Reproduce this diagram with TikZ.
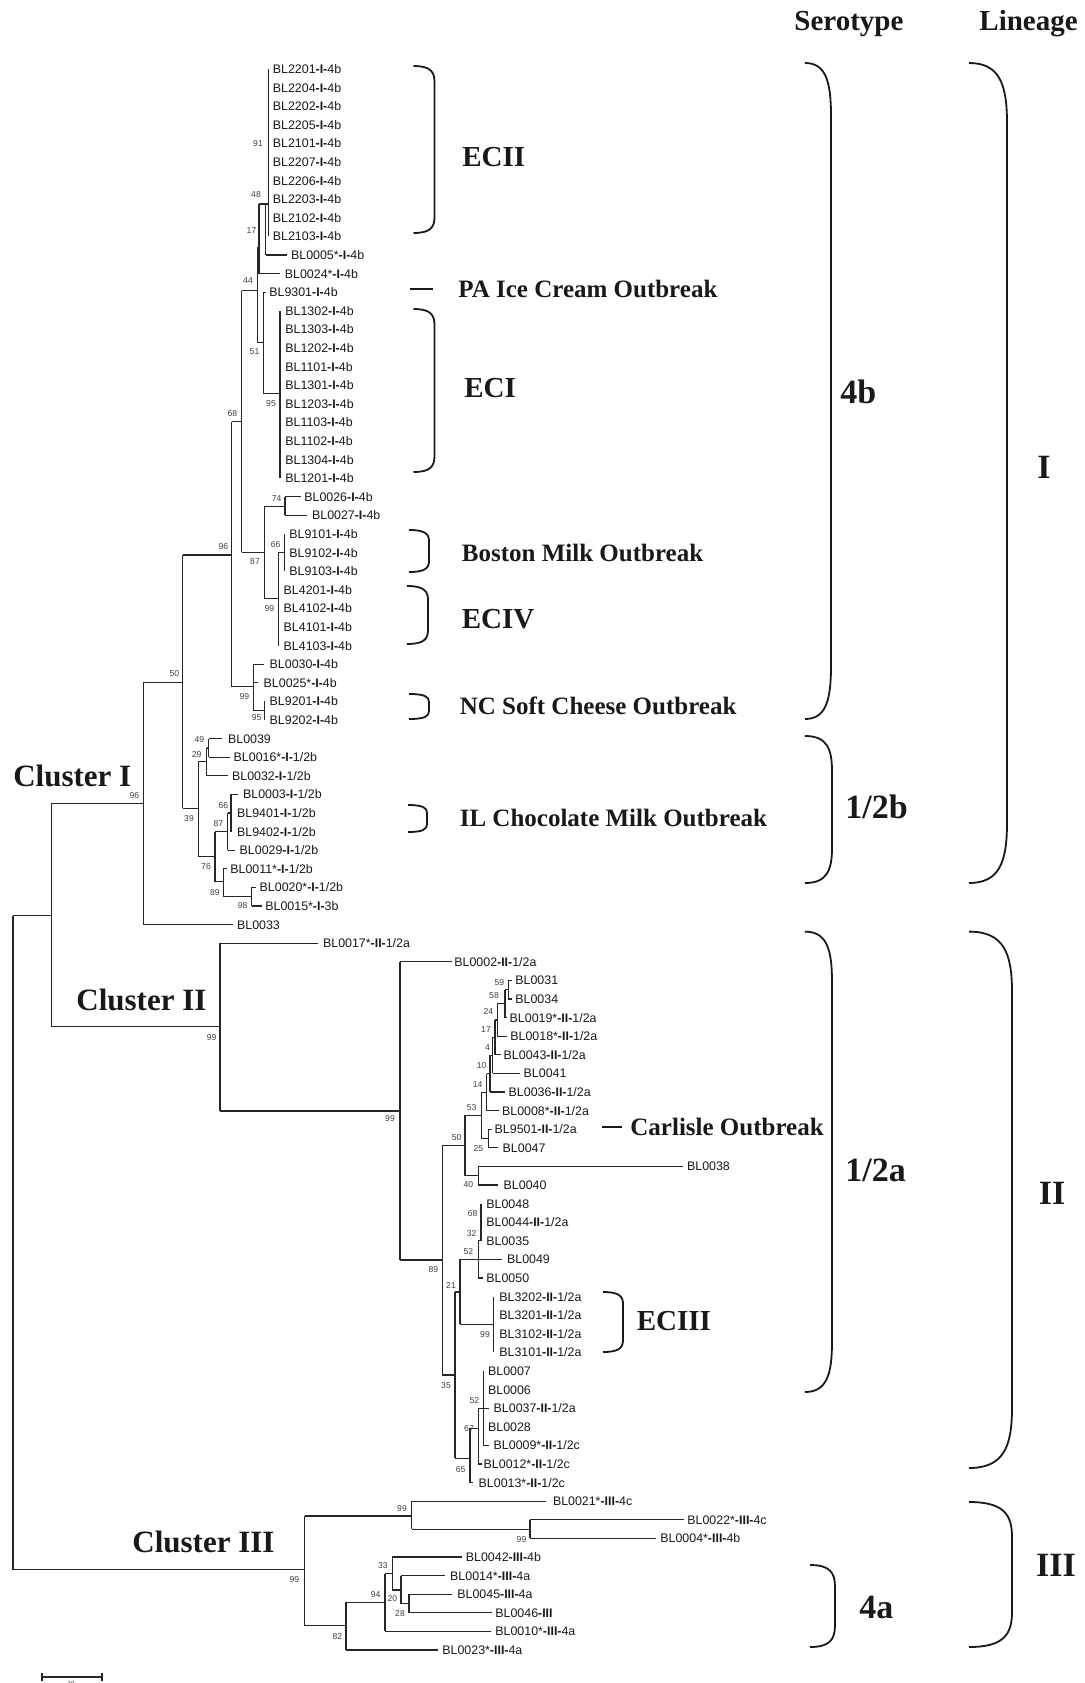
\documentclass[tikz,border=0pt]{standalone}
\usepackage{fontspec}
\setmainfont{Liberation Serif}
\newfontfamily\arialf{Liberation Sans}
\newcommand\lin[1]{\textbf{-#1-}}
\newcommand\hb[3]{\draw[br] (#2,#1) -- (#3,#1);}
\newcommand\vb[3]{\draw[br] (#1,#2) -- (#1,#3);}
\newcommand\bracketshape[5]{\draw[brk] (#1,#3) .. controls ({#1+0.8*(#2-#1)},#3) and (#2,{#3+0.35*#5}) .. (#2,{#3+#5}) -- (#2,{#4-#5}) .. controls (#2,{#4-0.35*#5}) and ({#1+0.8*(#2-#1)},#4) .. (#1,#4);}
\tikzset{
 lf/.style={anchor=west, inner sep=0pt, font=\arialf\fontsize{6.2}{6.2}\selectfont, text height=4.4pt, text depth=0pt, text=black!90},
 bs/.style={inner sep=0pt, font=\arialf\fontsize{4.3}{4.3}\selectfont, text=black!75},
 br/.style={line width=0.6pt, black!85},
 brk/.style={line width=0.9pt, black!90},
 ec/.style={anchor=west, inner sep=0pt, font=\bfseries\fontsize{14.5}{14.5}\selectfont, text height=9.6pt, text depth=0pt, text=black!90},
 ob/.style={anchor=west, inner sep=0pt, font=\bfseries\fontsize{12.5}{12.5}\selectfont, text height=8.3pt, text depth=0pt, text=black!90},
 cl/.style={anchor=west, inner sep=0pt, font=\bfseries\fontsize{15.5}{15.5}\selectfont, text height=10.3pt, text depth=0pt, text=black!90},
 sero/.style={inner sep=0pt, font=\bfseries\fontsize{17}{17}\selectfont, text height=11.3pt, text depth=0pt, text=black!90},
}
\begin{document}
\begin{tikzpicture}[x=0.5pt,y=-0.5pt]
\useasboundingbox (0,0) rectangle (1084,1683);
% ---------- leaves ----------
\node[lf] (l1) at (272.5,69) {BL2201\lin{I}4b};
\node[lf] (l2) at (272.5,87.6) {BL2204\lin{I}4b};
\node[lf] (l3) at (272.5,106.2) {BL2202\lin{I}4b};
\node[lf] (l4) at (272.5,124.8) {BL2205\lin{I}4b};
\node[lf] (l5) at (272.5,143.4) {BL2101\lin{I}4b};
\node[lf] (l6) at (272.5,162) {BL2207\lin{I}4b};
\node[lf] (l7) at (272.5,180.6) {BL2206\lin{I}4b};
\node[lf] (l8) at (272.5,199.2) {BL2203\lin{I}4b};
\node[lf] (l9) at (272.5,217.8) {BL2102\lin{I}4b};
\node[lf] (l10) at (272.5,236.4) {BL2103\lin{I}4b};
\node[lf] (l11) at (290.7,255) {BL0005*\lin{I}4b};
\node[lf] (l12) at (284.5,273.6) {BL0024*\lin{I}4b};
\node[lf] (l13) at (269,292.2) {BL9301\lin{I}4b};
\node[lf] (l14) at (285,310.8) {BL1302\lin{I}4b};
\node[lf] (l15) at (285,329.4) {BL1303\lin{I}4b};
\node[lf] (l16) at (285,348) {BL1202\lin{I}4b};
\node[lf] (l17) at (285,366.6) {BL1101\lin{I}4b};
\node[lf] (l18) at (285,385.2) {BL1301\lin{I}4b};
\node[lf] (l19) at (285,403.8) {BL1203\lin{I}4b};
\node[lf] (l20) at (285,422.4) {BL1103\lin{I}4b};
\node[lf] (l21) at (285,441) {BL1102\lin{I}4b};
\node[lf] (l22) at (285,459.6) {BL1304\lin{I}4b};
\node[lf] (l23) at (285,478.2) {BL1201\lin{I}4b};
\node[lf] (l24) at (304,496.8) {BL0026\lin{I}4b};
\node[lf] (l25) at (311.7,515.4) {BL0027\lin{I}4b};
\node[lf] (l26) at (289,534) {BL9101\lin{I}4b};
\node[lf] (l27) at (289,552.6) {BL9102\lin{I}4b};
\node[lf] (l28) at (289,571.2) {BL9103\lin{I}4b};
\node[lf] (l29) at (283.3,589.8) {BL4201\lin{I}4b};
\node[lf] (l30) at (283.3,608.4) {BL4102\lin{I}4b};
\node[lf] (l31) at (283.3,627) {BL4101\lin{I}4b};
\node[lf] (l32) at (283.3,645.6) {BL4103\lin{I}4b};
\node[lf] (l33) at (269.3,664.2) {BL0030\lin{I}4b};
\node[lf] (l34) at (263.3,682.8) {BL0025*\lin{I}4b};
\node[lf] (l35) at (269.3,701.4) {BL9201\lin{I}4b};
\node[lf] (l36) at (269.3,720) {BL9202\lin{I}4b};
\node[lf] (l37) at (227.7,738.6) {BL0039};
\node[lf] (l38) at (233.3,757.2) {BL0016*\lin{I}1/2b};
\node[lf] (l39) at (231.7,775.8) {BL0032\lin{I}1/2b};
\node[lf] (l40) at (242.7,794.4) {BL0003\lin{I}1/2b};
\node[lf] (l41) at (236.7,813) {BL9401\lin{I}1/2b};
\node[lf] (l42) at (236.7,831.6) {BL9402\lin{I}1/2b};
\node[lf] (l43) at (239.3,850.2) {BL0029\lin{I}1/2b};
\node[lf] (l44) at (230,868.8) {BL0011*\lin{I}1/2b};
\node[lf] (l45) at (259.3,887.4) {BL0020*\lin{I}1/2b};
\node[lf] (l46) at (265,906) {BL0015*\lin{I}3b};
\node[lf] (l47) at (236.7,924.6) {BL0033};
\node[lf] (l48) at (322.7,943.2) {BL0017*\lin{II}1/2a};
\node[lf] (l49) at (454,961.8) {BL0002\lin{II}1/2a};
\node[lf] (l50) at (515,980.4) {BL0031};
\node[lf] (l51) at (515,999) {BL0034};
\node[lf] (l52) at (509.3,1017.6) {BL0019*\lin{II}1/2a};
\node[lf] (l53) at (510,1036.2) {BL0018*\lin{II}1/2a};
\node[lf] (l54) at (503.3,1054.8) {BL0043\lin{II}1/2a};
\node[lf] (l55) at (523.3,1073.4) {BL0041};
\node[lf] (l56) at (508.3,1092) {BL0036\lin{II}1/2a};
\node[lf] (l57) at (501.7,1110.6) {BL0008*\lin{II}1/2a};
\node[lf] (l58) at (494.3,1129.2) {BL9501\lin{II}1/2a};
\node[lf] (l59) at (502.3,1147.8) {BL0047};
\node[lf] (l60) at (686.7,1166.4) {BL0038};
\node[lf] (l61) at (503.3,1185) {BL0040};
\node[lf] (l62) at (486,1203.6) {BL0048};
\node[lf] (l63) at (486,1222.2) {BL0044\lin{II}1/2a};
\node[lf] (l64) at (486,1240.8) {BL0035};
\node[lf] (l65) at (506.7,1259.4) {BL0049};
\node[lf] (l66) at (486,1278) {BL0050};
\node[lf] (l67) at (499,1296.6) {BL3202\lin{II}1/2a};
\node[lf] (l68) at (499,1315.2) {BL3201\lin{II}1/2a};
\node[lf] (l69) at (499,1333.8) {BL3102\lin{II}1/2a};
\node[lf] (l70) at (499,1352.4) {BL3101\lin{II}1/2a};
\node[lf] (l71) at (487.7,1371) {BL0007};
\node[lf] (l72) at (487.7,1389.6) {BL0006};
\node[lf] (l73) at (493.3,1408.2) {BL0037\lin{II}1/2a};
\node[lf] (l74) at (487.7,1426.8) {BL0028};
\node[lf] (l75) at (493.3,1445.4) {BL0009*\lin{II}1/2c};
\node[lf] (l76) at (483.3,1464) {BL0012*\lin{II}1/2c};
\node[lf] (l77) at (478.3,1482.6) {BL0013*\lin{II}1/2c};
\node[lf] (l78) at (552.6,1501.2) {BL0021*\lin{III}4c};
\node[lf] (l79) at (687,1519.8) {BL0022*\lin{III}4c};
\node[lf] (l80) at (660,1538.4) {BL0004*\lin{III}4b};
\node[lf] (l81) at (465.5,1557) {BL0042\lin{III}4b};
\node[lf] (l82) at (449.8,1575.6) {BL0014*\lin{III}4a};
\node[lf] (l83) at (457,1594.2) {BL0045\lin{III}4a};
\node[lf] (l84) at (495,1612.8) {BL0046\textbf{-III}};
\node[lf] (l85) at (495,1631.4) {BL0010*\lin{III}4a};
\node[lf] (l86) at (442,1650) {BL0023*\lin{III}4a};
% ---------- Cluster I branches ----------
\vb{268.3}{69}{236.4}
\hb{204}{259}{268.3}
\vb{265.7}{204}{255}
\hb{255}{265.7}{287}
\vb{259}{204}{273.6}
\hb{273.6}{259}{280}
\vb{257.3}{248}{342.7}
\hb{248}{257.3}{259}
\vb{263.3}{292.2}{393.3}
\hb{292.2}{263.3}{266}
\hb{342.7}{257.3}{263.3}
\vb{280}{310.8}{478.2}
\hb{393.3}{263.3}{280}
\hb{290.7}{241.7}{257.3}
\vb{241.7}{290.7}{552.3}
\hb{421.7}{231.7}{241.7}
\vb{264.3}{506.1}{598.3}
\hb{552.3}{241.7}{264.3}
\vb{285}{496.8}{515.4}
\hb{506.1}{264.3}{285}
\hb{496.8}{285}{300.7}
\hb{515.4}{285}{307.3}
\vb{278.3}{552.6}{645.6}
\hb{598.3}{264.3}{278.3}
\vb{284.3}{534}{571.2}
\hb{552.6}{278.3}{284.3}
\vb{231.7}{421.7}{686.7}
\hb{555}{182.7}{231.7}
\vb{253.3}{664.2}{710.7}
\hb{686.7}{231.7}{253.3}
\hb{664.2}{253.3}{264.3}
\hb{682.8}{253.3}{258.3}
\vb{264.3}{701.4}{720}
\hb{710.7}{253.3}{264.3}
\vb{182.7}{555}{808.3}
\hb{682.3}{143.3}{182.7}
\vb{198.3}{761.8}{856.7}
\hb{808.3}{182.7}{198.3}
\vb{206.7}{747.9}{775.8}
\hb{761.8}{198.3}{206.7}
\vb{208.5}{738.6}{757.2}
\hb{747.9}{206.7}{208.5}
\hb{738.6}{208.5}{221.7}
\hb{757.2}{208.5}{230}
\hb{775.8}{206.7}{228.3}
\vb{215}{831.6}{881.7}
\hb{856.7}{198.3}{215}
\vb{227.7}{813}{850.2}
\hb{831.6}{215}{227.7}
\vb{231}{794.4}{831.6}
\hb{813}{227.7}{231}
\hb{794.4}{231}{238.3}
\hb{850.2}{227.7}{235}
\vb{223.3}{868.8}{896.7}
\hb{881.7}{215}{223.3}
\hb{868.8}{223.3}{226.7}
\vb{251.7}{887.4}{906}
\hb{896.7}{223.3}{251.7}
\hb{887.4}{251.7}{256}
\hb{906}{251.7}{262}
\vb{143.3}{682.3}{924.6}
\hb{803.3}{51.7}{143.3}
\hb{924.6}{143.3}{233.3}
% ---------- root ----------
\vb{51.7}{803.3}{1026.7}
\hb{915.5}{12.9}{51.7}
\vb{12.9}{915.5}{1569.5}
% ---------- Cluster II branches ----------
\hb{1026.7}{51.7}{220}
\vb{220}{943.2}{1111}
\hb{943.2}{220}{318.3}
\hb{1111}{220}{400}
\vb{400}{961.8}{1260}
\hb{961.8}{400}{451.7}
\hb{1260}{400}{442.3}
\vb{442.3}{1145.7}{1375}
\hb{1145.7}{442.3}{465}
\vb{465}{1115.4}{1175.7}
\vb{481.7}{1092.2}{1138.5}
\hb{1115.4}{465}{481.7}
\vb{486.7}{1073.7}{1110.6}
\hb{1092.2}{481.7}{486.7}
\hb{1110.6}{486.7}{499}
\vb{490}{1055.4}{1092}
\hb{1073.7}{486.7}{490}
\hb{1092}{490}{505}
\vb{492.7}{1037.4}{1073.4}
\hb{1055.4}{490}{492.7}
\hb{1073.4}{492.7}{520}
\vb{495}{1020}{1054.8}
\hb{1037.4}{492.7}{495}
\hb{1054.8}{495}{501}
\vb{497.3}{1003.8}{1036.2}
\hb{1020}{495}{497.3}
\hb{1036.2}{497.3}{507}
\vb{505}{989.7}{1017.6}
\hb{1003.8}{497.3}{505}
\hb{1017.6}{505}{506.5}
\vb{508.3}{980.4}{999}
\hb{989.7}{505}{508.3}
\hb{980.4}{508.3}{511.7}
\hb{999}{508.3}{511.7}
\vb{488.3}{1129.2}{1147.8}
\hb{1138.5}{481.7}{488.3}
\hb{1129.2}{488.3}{491.5}
\hb{1147.8}{488.3}{498.3}
\vb{478.3}{1166.4}{1185}
\hb{1175.7}{465}{478.3}
\hb{1166.4}{478.3}{683.3}
\hb{1185}{478.3}{498.3}
\vb{455}{1292}{1458.3}
\hb{1375}{442.3}{455}
\vb{460}{1259.4}{1324.3}
\hb{1292}{455}{460}
\vb{478.3}{1240.8}{1278}
\hb{1259.4}{460}{501.7}
\vb{481}{1203.6}{1240.8}
\hb{1240.8}{478.3}{481}
\hb{1278}{478.3}{483.3}
\hb{1324.3}{460}{493.3}
\vb{493.3}{1296.6}{1352.4}
\vb{470}{1428.3}{1482.6}
\hb{1458.3}{455}{470}
\hb{1482.6}{470}{473.3}
\vb{478.3}{1408.2}{1464}
\hb{1428.3}{470}{478.3}
\hb{1464}{478.3}{481.7}
\vb{483.3}{1371}{1445.4}
\hb{1408.2}{478.3}{489.3}
\hb{1445.4}{483.3}{489.3}
% ---------- Cluster III branches ----------
\hb{1569.5}{12.9}{304.8}
\vb{304.8}{1516}{1625.7}
\hb{1516}{304.8}{411.5}
\vb{411.5}{1501.2}{1529.3}
\hb{1501.2}{411.5}{545.5}
\hb{1529.3}{411.5}{530}
\vb{530}{1519.8}{1538.4}
\hb{1519.8}{530}{684}
\hb{1538.4}{530}{656}
\hb{1625.7}{304.8}{346}
\vb{346}{1602.3}{1650}
\hb{1650}{346}{438}
\hb{1602.3}{346}{385}
\vb{385}{1573.5}{1631.4}
\hb{1631.4}{385}{491}
\hb{1573.5}{385}{392.3}
\vb{392.3}{1557}{1590}
\hb{1557}{392.3}{461.7}
\hb{1590}{392.3}{401}
\vb{401}{1575.6}{1603.5}
\hb{1575.6}{401}{445}
\hb{1603.5}{401}{409}
\vb{409}{1594.2}{1612.8}
\hb{1594.2}{409}{452}
\hb{1612.8}{409}{492}
% ---------- bootstrap values ----------
\node[bs] (b1) at (258,144) {91};
\node[bs] (b2) at (256,195) {48};
\node[bs] (b3) at (251.5,231) {17};
\node[bs] (b4) at (248,281) {44};
\node[bs] (b5) at (254.5,352) {51};
\node[bs] (b6) at (271,404) {95};
\node[bs] (b7) at (232.3,414) {68};
\node[bs] (b8) at (276.7,498.3) {74};
\node[bs] (b9) at (275.7,545) {66};
\node[bs] (b10) at (255,561.7) {87};
\node[bs] (b11) at (269.3,608.3) {99};
\node[bs] (b12) at (223.3,546.7) {96};
\node[bs] (b13) at (174.3,674) {50};
\node[bs] (b14) at (244.3,696.7) {99};
\node[bs] (b15) at (256.7,717.3) {95};
\node[bs] (b16) at (199.3,740) {49};
\node[bs] (b17) at (196.7,754.3) {29};
\node[bs] (b18) at (134.3,795.7) {96};
\node[bs] (b19) at (223.3,806) {66};
\node[bs] (b20) at (189,819) {39};
\node[bs] (b21) at (218.3,824) {87};
\node[bs] (b22) at (206,866.7) {76};
\node[bs] (b23) at (215,892.7) {89};
\node[bs] (b24) at (242.7,905.7) {98};
\node[bs] (b25) at (211.7,1037.3) {99};
\node[bs] (b26) at (390,1119) {99};
\node[bs] (b27) at (499.3,982.3) {59};
\node[bs] (b28) at (494,996) {58};
\node[bs] (b29) at (488.3,1011.7) {24};
\node[bs] (b30) at (486,1029.3) {17};
\node[bs] (b31) at (487.5,1047.3) {4};
\node[bs] (b32) at (481.7,1066) {10};
\node[bs] (b33) at (477.7,1084.3) {14};
\node[bs] (b34) at (471.7,1107.7) {53};
\node[bs] (b35) at (456.7,1137.3) {50};
\node[bs] (b36) at (478.3,1148.3) {25};
\node[bs] (b37) at (468.3,1185) {40};
\node[bs] (b38) at (472.7,1214) {68};
\node[bs] (b39) at (471.7,1233.3) {32};
\node[bs] (b40) at (468.3,1251.7) {52};
\node[bs] (b41) at (433.3,1270) {89};
\node[bs] (b42) at (451,1285) {21};
\node[bs] (b43) at (485,1334.3) {99};
\node[bs] (b44) at (446,1386) {35};
\node[bs] (b45) at (474.3,1401) {52};
\node[bs] (b46) at (469,1428.3) {67};
\node[bs] (b47) at (460.7,1469.3) {65};
\node[bs] (b48) at (402,1508.3) {99};
\node[bs] (b49) at (521.5,1539.3) {99};
\node[bs] (b50) at (294.3,1580) {99};
\node[bs] (b51) at (382.8,1566) {33};
\node[bs] (b52) at (375.6,1595) {94};
\node[bs] (b53) at (392.3,1599) {20};
\node[bs] (b54) at (400,1613.3) {28};
\node[bs] (b55) at (337.3,1636.7) {82};
% ---------- group brackets ----------
\bracketshape{413.5}{434.5}{66}{233}{16}
\bracketshape{413.5}{434.5}{309}{472}{16}
\bracketshape{409}{429}{530}{572}{11}
\bracketshape{407}{428}{586}{644}{14}
\bracketshape{409}{429}{694}{719}{8}
\bracketshape{408}{427}{805}{832}{8}
\bracketshape{603}{623}{1292}{1352}{12}
\bracketshape{805}{831}{63}{719}{53}
\bracketshape{805}{832}{736}{883}{35}
\bracketshape{805}{832}{931.6}{1392}{50}
\bracketshape{810}{835}{1565}{1647}{22}
\bracketshape{969}{1007}{63}{883}{60}
\bracketshape{969}{1012}{931.6}{1468}{60}
\bracketshape{969}{1012}{1502}{1647}{35}
\coordinate (pa1) at (410,289);
\coordinate (pa2) at (433,289);
\draw[brk] (pa1) -- (pa2);
\coordinate (ca1) at (602,1126.7);
\coordinate (ca2) at (622,1126.7);
\draw[brk] (ca1) -- (ca2);
% ---------- group labels ----------
\node[ec] (tECII) at (462,157) {ECII};
\node[ob] (tPA) at (458,289) {PA Ice Cream Outbreak};
\node[ec] (tECI) at (464,387.5) {ECI};
\node[ob] (tBM) at (461.5,552.7) {Boston Milk Outbreak};
\node[ec] (tECIV) at (461.5,619.3) {ECIV};
\node[ob] (tNC) at (459.4,706.2) {NC Soft Cheese Outbreak};
\node[ob] (tIL) at (459.4,817.9) {IL Chocolate Milk Outbreak};
\node[ob] (tCA) at (630,1126.7) {Carlisle Outbreak};
\node[ec] (tECIII) at (636.5,1321.3) {ECIII};
\node[cl] (tC1) at (12.9,776) {Cluster I};
\node[cl] (tC2) at (76,1000.3) {Cluster II};
\node[cl] (tC3) at (132,1542.3) {Cluster III};
\node[ec, text depth=3pt] (tSer) at (794,24) {Serotype};
\node[ec, text depth=3pt] (tLin) at (979,24) {Lineage};
\node[sero, anchor=west] (s4b) at (840,392) {4b};
\node[sero, anchor=west] (s12b) at (845,807) {1/2b};
\node[sero, anchor=west] (s12a) at (845,1170) {1/2a};
\node[sero, anchor=west] (s4a) at (859,1607) {4a};
\node[sero] (L1) at (1044,467) {I};
\node[sero] (L2) at (1052,1193) {II};
\node[sero] (L3) at (1056,1565) {III};
% ---------- scale bar ----------
\coordinate (sb1) at (42,1677);
\coordinate (sb2) at (102,1677);
\draw[br] (sb1) -- (sb2);
\draw[br] ([yshift=2pt]sb1) -- ([yshift=-2pt]sb1);
\draw[br] ([yshift=2pt]sb2) -- ([yshift=-2pt]sb2);
\node[bs, font=\arialf\fontsize{3}{3}\selectfont] (sbt) at (71,1683) {10};
\end{tikzpicture}
\end{document}
